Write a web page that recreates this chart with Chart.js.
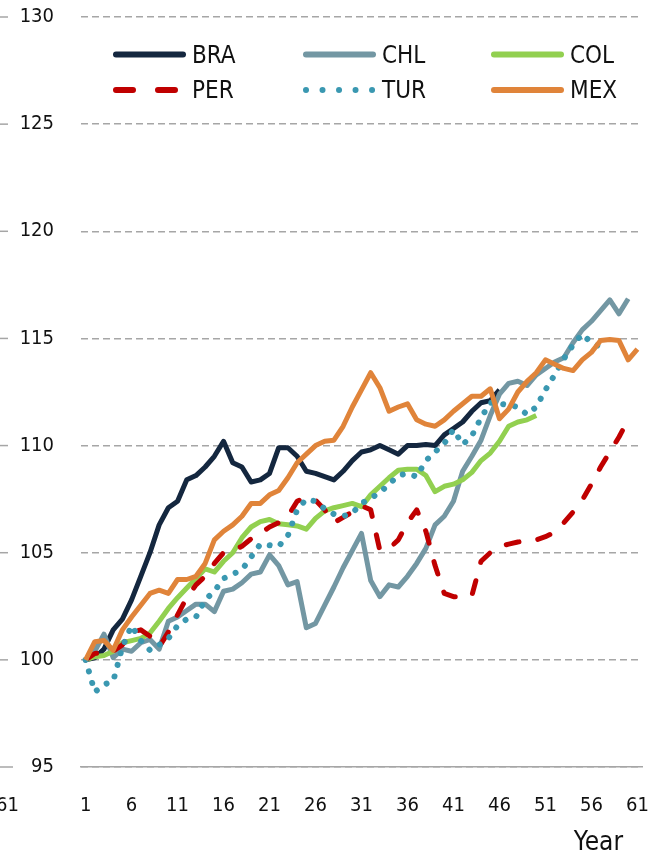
<!DOCTYPE html>
<html lang="en">
  <head>
    <meta charset="UTF-8" />
    <title>Index by year</title>
    <script src="https://cdn.jsdelivr.net/npm/chart.js@4"></script>
    <style>
      body { margin: 0; background: #fff; }
    </style>
  </head>
  <body>
    <canvas id="myChart" width="654" height="856"></canvas>

    <script>
      // x categories and the labels shown on the axis
      const years = ['1', '2', '3', '4', '5', '6', '7', '8', '9', '10',
        '11', '12', '13', '14', '15', '16', '17', '18', '19', '20',
        '21', '22', '23', '24', '25', '26', '27', '28', '29', '30',
        '31', '32', '33', '34', '35', '36', '37', '38', '39', '40',
        '41', '42', '43', '44', '45', '46', '47', '48', '49', '50',
        '51', '52', '53', '54', '55', '56', '57', '58', '59', '60', '61'];
      const xTickLabels = ['1', '6', '11', '16', '21', '26', '31', '36', '41', '46', '51', '56', '61'];
      const yMin = 95;
      const yMax = 130;
      const yStep = 5;

      const bra = [100.0, 100.1, 100.5, 101.4, 101.9, 102.8, 103.9, 105.0, 106.3, 107.1,
        107.4, 108.4, 108.6, 109.0, 109.5, 110.2, 109.2, 109.0, 108.3, 108.4,
        108.7, 109.9, 109.9, 109.5, 108.8, 108.7, 108.55, 108.4, 108.8, 109.3,
        109.7, 109.8, 110.0, 109.8, 109.6, 110.0, 110.0, 110.05, 110.0, 110.5,
        110.8, 111.1, 111.6, 112.0, 112.1, 112.6];
      const chl = [100.0, 100.4, 101.2, 100.1, 100.5, 100.4, 100.8, 100.95, 100.5, 101.8,
        102.0, 102.3, 102.6, 102.6, 102.25, 103.2, 103.3, 103.6, 104.0, 104.1,
        104.9, 104.4, 103.5, 103.65, 101.5, 101.7, 102.55, 103.4, 104.3, 105.1,
        105.9, 103.7, 102.95, 103.5, 103.4, 103.9, 104.5, 105.2, 106.3, 106.7,
        107.4, 108.8, 109.5, 110.25, 111.4, 112.4, 112.9, 113.0, 112.8, 113.3,
        113.6, 113.9, 114.1, 114.8, 115.4, 115.8, 116.3, 116.8, 116.15, 116.85];
      const col = [100.0, 100.15, 100.2, 100.4, 100.8, 100.9, 101.0, 101.25, 101.8, 102.4,
        102.9, 103.35, 103.8, 104.25, 104.1, 104.6, 105.0, 105.7, 106.2, 106.45,
        106.55, 106.35, 106.3, 106.25, 106.1, 106.6, 106.95, 107.1, 107.2, 107.3,
        107.15, 107.7, 108.1, 108.5, 108.85, 108.9, 108.9, 108.6, 107.85, 108.1,
        108.2, 108.4, 108.75, 109.3, 109.65, 110.2, 110.9, 111.1, 111.2, 111.4];
      const per = [100.0, 100.3, 100.35, 100.4, 100.7, 101.3, 101.4, 101.1, 100.6, 101.3,
        102.1, 102.9, 103.5, 103.9, 104.5, 105.0, 105.1, 105.3, 105.65, 105.9,
        106.2, 106.4, 106.7, 107.4, 107.6, 107.45, 107.0, 106.4, 106.65, 106.9,
        107.2, 107.0, 105.1, 105.2, 105.6, 106.4, 107.0, 106.0, 104.4, 103.1,
        102.95, 102.95, 103.0, 104.6, 105.0, 105.3, 105.4, 105.5, 105.55, 105.6,
        105.75, 105.95, 106.4, 106.9, 107.45, 108.2, 109.0, 109.7, 110.4, 111.2];
      const tur = [100.0, 98.5, 98.85, 99.0, 100.6, 101.6, 100.9, 100.45, 100.7, 101.0,
        101.6, 101.9, 102.0, 102.8, 103.2, 103.8, 104.0, 104.2, 104.8, 105.4,
        105.35, 105.3, 105.8, 107.0, 107.5, 107.4, 107.05, 106.8, 106.7, 106.85,
        107.3, 107.55, 107.8, 108.2, 108.6, 108.7, 108.55, 109.3, 109.7, 110.1,
        110.75, 110.05, 110.45, 111.3, 112.0, 111.95, 111.9, 111.8, 111.45, 111.8,
        112.6, 113.3, 114.05, 114.7, 115.2, 114.8, 114.6];
      const mex = [100.0, 100.85, 100.9, 100.45, 101.4, 102.0, 102.55, 103.1, 103.25, 103.1,
        103.75, 103.75, 103.9, 104.5, 105.6, 106.0, 106.3, 106.7, 107.3, 107.3,
        107.7, 107.9, 108.5, 109.2, 109.6, 110.0, 110.2, 110.25, 110.9, 111.8,
        112.6, 113.4, 112.7, 111.6, 111.8, 111.95, 111.2, 111.0, 110.9, 111.2,
        111.6, 111.95, 112.3, 112.3, 112.65, 111.25, 111.7, 112.5, 113.0, 113.4,
        114.0, 113.8, 113.6, 113.5, 114.0, 114.35, 114.9, 114.95, 114.9, 114.0, 114.5];

      const fontFamily = "'DejaVu Sans Condensed', 'DejaVu Sans', sans-serif";
      const textColor = '#111';
      const gridColor = '#A6A6A6';

      // legend in two rows of three, inside the plot, plus the loose texts round it
      const extrasPlugin = {
        id: 'extras',
        afterDraw(chart) {
          const ctx = chart.ctx;
          const area = chart.chartArea;
          const yScale = chart.scales.y;
          ctx.save();

          // legend
          const colX = [32, 222, 410];
          const rowY = [37.5, 73];
          ctx.font = '24px ' + fontFamily;
          ctx.textBaseline = 'middle';
          ctx.textAlign = 'left';
          chart.data.datasets.forEach((ds, i) => {
            const x = area.left + colX[i % 3];
            const y = area.top + rowY[Math.floor(i / 3)];
            ctx.strokeStyle = ds.borderColor;
            ctx.lineWidth = 6;
            ctx.lineCap = 'round';
            ctx.setLineDash(ds.legendDash || []);
            ctx.beginPath();
            ctx.moveTo(x + 3, y);
            ctx.lineTo(x + 70, y);
            ctx.stroke();
            ctx.setLineDash([]);
            ctx.fillStyle = textColor;
            ctx.fillText(ds.label, x + 79, y + 2);
          });

          // stubs of the neighbouring panel's grid at the left edge
          ctx.strokeStyle = gridColor;
          ctx.lineWidth = 1.5;
          ctx.lineCap = 'butt';
          yScale.ticks.forEach(t => {
            const y = yScale.getPixelForValue(t.value);
            ctx.beginPath();
            ctx.moveTo(0, y);
            ctx.lineTo(t.value === yMin ? 13 : 8, y);
            ctx.stroke();
          });

          // cut-off last label of the neighbouring panel and the x title
          ctx.fillStyle = textColor;
          ctx.textAlign = 'right';
          ctx.font = '20px ' + fontFamily;
          ctx.fillText('61', 19, area.bottom + 39);
          ctx.font = '26px ' + fontFamily;
          ctx.fillText('Year', area.right - 19, area.bottom + 76);
          ctx.restore();
        }
      };

      window.addEventListener('load', setup);

      function setup() {
        const ctx = document.getElementById('myChart').getContext('2d');
        const myChart = new Chart(ctx, {
          type: 'line',
          data: {
            labels: years,
            datasets: [
              { label: 'BRA', data: bra, borderColor: '#14273F', borderWidth: 5, order: 6 },
              { label: 'CHL', data: chl, borderColor: '#7397A3', borderWidth: 5, order: 5 },
              { label: 'COL', data: col, borderColor: '#92D050', borderWidth: 5, order: 4 },
              {
                label: 'PER', data: per, borderColor: '#C00000', borderWidth: 5, order: 3,
                borderDash: [13, 19], borderCapStyle: 'round', legendDash: [17, 25]
              },
              {
                label: 'TUR', data: tur, borderColor: '#3A98B1', borderWidth: 6, order: 2,
                borderDash: [0.01, 12], borderCapStyle: 'round', legendDash: [0.01, 16.5]
              },
              { label: 'MEX', data: mex, borderColor: '#E0843A', borderWidth: 5, order: 1 }
            ]
          },
          options: {
            responsive: false,
            animation: false,
            layout: { padding: { top: 17, right: 12, bottom: 0, left: 0 } },
            elements: {
              point: { radius: 0, hoverRadius: 0 },
              line: { tension: 0, borderJoinStyle: 'round', fill: false }
            },
            plugins: {
              legend: { display: false },
              tooltip: { enabled: false }
            },
            scales: {
              x: {
                offset: true,
                grid: { display: false, drawTicks: false },
                border: { display: true, color: gridColor, width: 1.5 },
                ticks: {
                  autoSkip: false,
                  maxRotation: 0,
                  padding: 27,
                  color: textColor,
                  font: { family: fontFamily, size: 20 },
                  callback: (value, index) => xTickLabels.includes(years[index]) ? years[index] : null
                },
                afterFit: scale => {
                  scale.height = 89;
                  scale.paddingLeft = 0;
                  scale.paddingRight = 0;
                }
              },
              y: {
                min: yMin,
                max: yMax,
                grid: { color: gridColor, lineWidth: 1.5, drawTicks: false },
                border: { display: false, dash: [7, 4] },
                ticks: {
                  stepSize: yStep,
                  padding: 27,
                  color: textColor,
                  font: { family: fontFamily, size: 20 }
                },
                afterFit: scale => {
                  scale.width = 81;
                  scale.paddingTop = 0;
                  scale.paddingBottom = 0;
                }
              }
            }
          },
          plugins: [extrasPlugin]
        });
      }
    </script>
  </body>
</html>
